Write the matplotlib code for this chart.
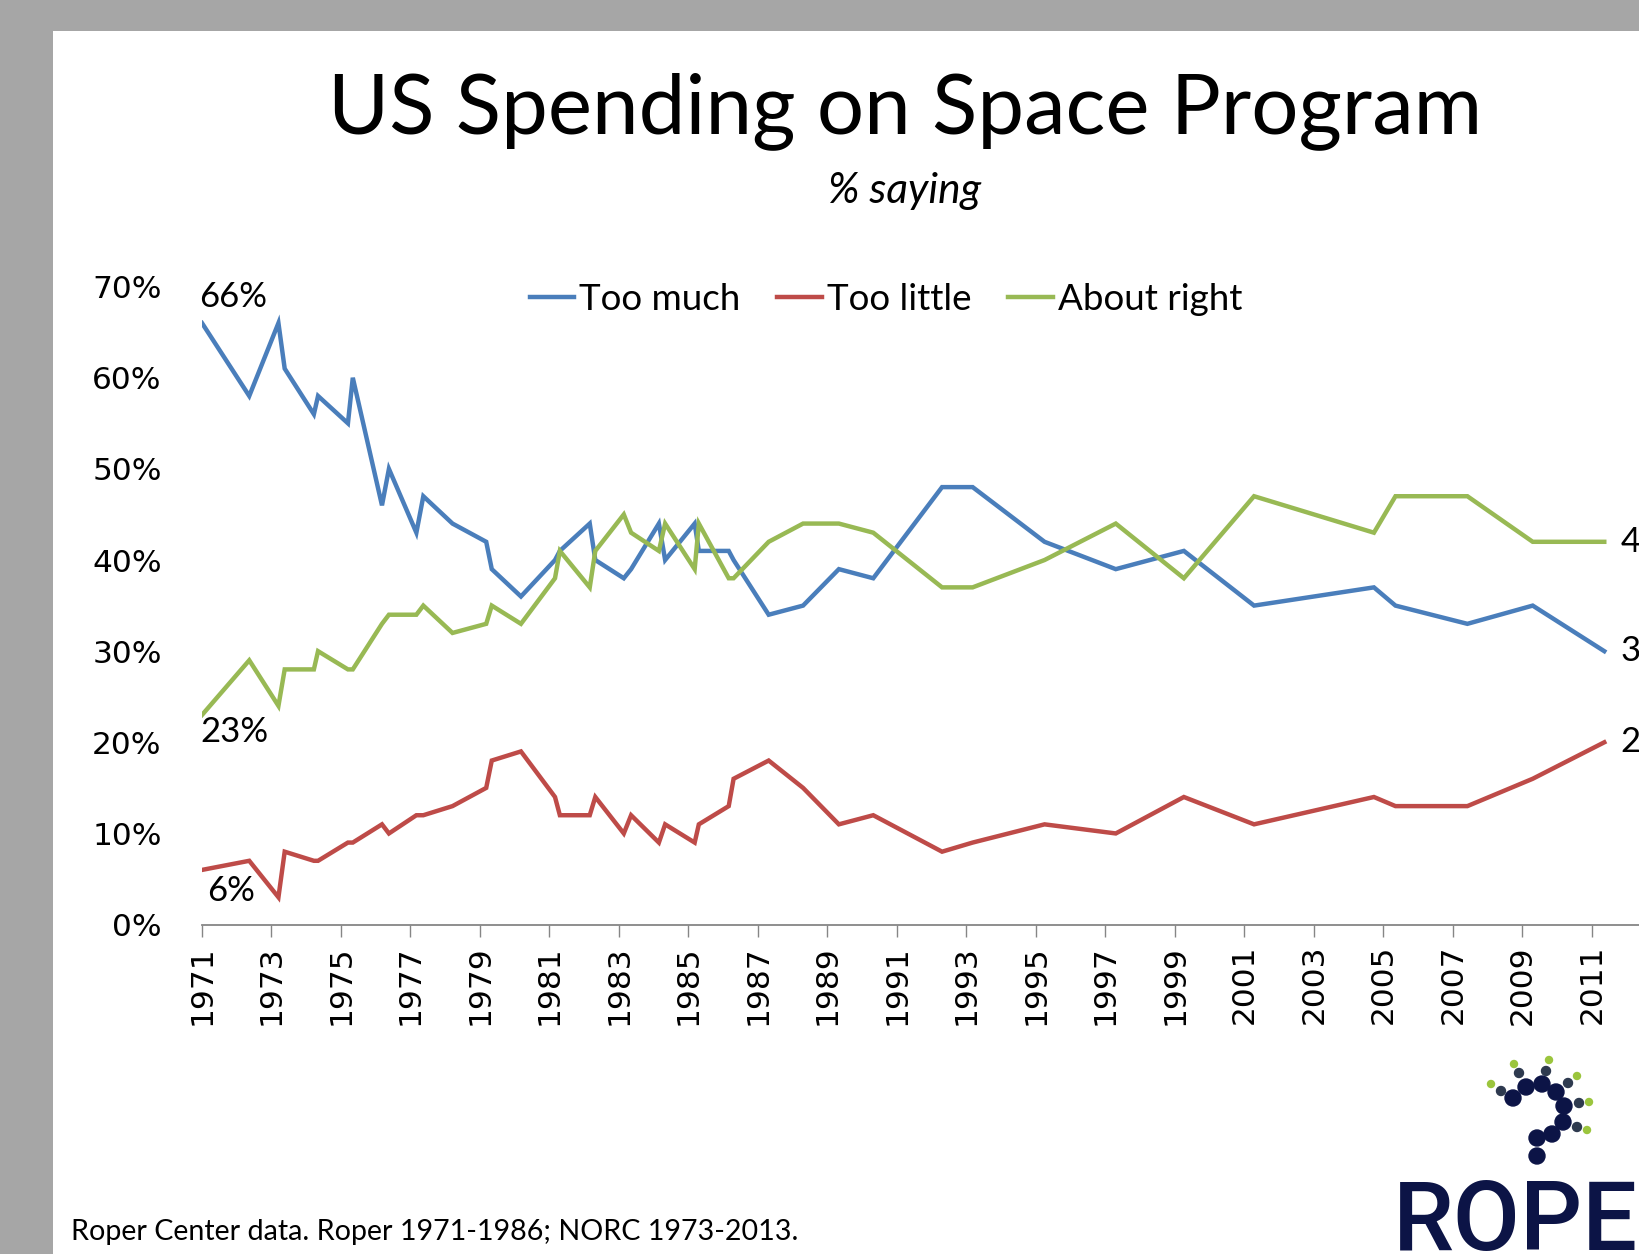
import matplotlib
matplotlib.use('Agg')
import matplotlib.pyplot as plt
from matplotlib.patches import Rectangle, Circle

# survey dates (decimal years) and shares saying each answer
years = [1971.0, 1972.36, 1973.2, 1973.38, 1974.22, 1974.34, 1975.2, 1975.34,
         1976.18, 1976.38, 1977.17, 1977.37, 1978.21, 1979.18, 1979.34, 1980.18,
         1981.16, 1981.3, 1982.16, 1982.32, 1983.14, 1983.35, 1984.15, 1984.33,
         1985.18, 1985.3, 1986.16, 1986.3, 1987.31, 1988.3, 1989.33, 1990.32,
         1992.3, 1993.18, 1995.25, 1997.3, 1999.26, 2001.28, 2004.73, 2005.35,
         2007.42, 2009.3, 2011.36]
too_much = [66, 58, 66, 61, 56, 58, 55, 60, 46, 50, 43, 47, 44, 42, 39, 36,
            40, 41, 44, 40, 38, 39, 44, 40, 44, 41, 41, 40, 34, 35, 39, 38,
            48, 48, 42, 39, 41, 35, 37, 35, 33, 35, 30]
too_little = [6, 7, 3, 8, 7, 7, 9, 9, 11, 10, 12, 12, 13, 15, 18, 19,
              14, 12, 12, 14, 10, 12, 9, 11, 9, 11, 13, 16, 18, 15, 11, 12,
              8, 9, 11, 10, 14, 11, 14, 13, 13, 16, 20]
about_right = [23, 29, 24, 28, 28, 30, 28, 28, 33, 34, 34, 35, 32, 33, 35, 33,
               38, 41, 37, 41, 45, 43, 41, 44, 39, 44, 38, 38, 42, 44, 44, 43,
               37, 37, 40, 44, 38, 47, 43, 47, 47, 42, 42]

series = [('Too much', too_much, '#4a7ebb'),
          ('Too little', too_little, '#be4b48'),
          ('About right', about_right, '#98b954')]
year_ticks = list(range(1971, 2013, 2))
pct_ticks = [0, 10, 20, 30, 40, 50, 60, 70]

W, H = 1640, 1254
txt_font = ['Lato', 'DejaVu Sans']

fig = plt.figure(figsize=(W / 100, H / 100), dpi=100, facecolor='#a6a6a6')
fig.add_artist(Rectangle((53 / W, 0), 1 - 53 / W, 1 - 31 / H, transform=fig.transFigure,
                         facecolor='white', edgecolor='none', zorder=0))

ax = fig.add_axes([202 / W, 1 - 924.6 / H, 1494 / W, 638 / H])
ax.set_facecolor('none')
for name, vals, col in series:
    ax.plot(years, [v / 100 for v in vals], color=col, lw=3.2, label=name,
            solid_joinstyle='miter')

ax.set_xlim(1971, 2014)
ax.set_ylim(0, 0.70)
ax.set_xticks(year_ticks)
ax.set_xticklabels([str(y) for y in year_ticks], rotation=90, fontsize=22.5,
                   family='DejaVu Sans')
ax.set_yticks([p / 100 for p in pct_ticks])
ax.set_yticklabels(['%d%%' % p for p in pct_ticks], fontsize=22.5, family='DejaVu Sans')
ax.tick_params(axis='x', length=8.6, width=1, color='#868686', pad=6)
ax.tick_params(axis='y', length=0, pad=29)
for s in ['top', 'right', 'left']:
    ax.spines[s].set_visible(False)
ax.spines['bottom'].set_color('#868686')
ax.spines['bottom'].set_linewidth(1.3)

# start / end value labels
lab = dict(fontsize=25, family=txt_font, va='center', textcoords='offset points')
ax.annotate('%d%%' % too_much[0], (years[0], too_much[0] / 100), xytext=(-2, 19), ha='left', **lab)
ax.annotate('%d%%' % about_right[0], (years[0], about_right[0] / 100), xytext=(-1.5, -12), ha='left', **lab)
ax.annotate('%d%%' % too_little[0], (years[0], too_little[0] / 100), xytext=(3.6, -15), ha='left', **lab)
for name, vals, col in series:
    ax.annotate('%d%%' % vals[-1], (years[-1], vals[-1] / 100), xytext=(11.5, 0), ha='left', **lab)

ax.legend(loc='center', bbox_to_anchor=(886 / W, 1 - 299 / H), bbox_transform=fig.transFigure,
          ncol=3, frameon=False, handlelength=1.2, handletextpad=0.15, columnspacing=1.0,
          prop={'family': txt_font, 'size': 26.5})

fig.text(905 / W, 1 - 111 / H, 'US Spending on Space Program', ha='center', va='center',
         fontsize=60, family=txt_font)
fig.text(905 / W, 1 - 191 / H, '% saying', ha='center', va='center', fontsize=30.5,
         style='italic', family=txt_font)
fig.text(71 / W, 1 - 1232 / H, 'Roper Center data. Roper 1971-1986; NORC 1973-2013.',
         ha='left', va='center', fontsize=20.6, family=txt_font)

# Roper logo (bottom right, cut off by the edge)
lx = fig.add_axes([0, 0, 1, 1], zorder=5)
lx.set_xlim(0, W)
lx.set_ylim(H, 0)
lx.axis('off')
lx.patch.set_alpha(0)
navy = '#0c1446'
for cx, cy in [(1513, 1098), (1526, 1087), (1542, 1084), (1556, 1092), (1564, 1106),
               (1563, 1122), (1552, 1134), (1537, 1138), (1537, 1156)]:
    lx.add_patch(Circle((cx, cy), 8, color=navy))
for cx, cy in [(1501, 1091), (1519, 1073), (1546, 1071), (1568, 1083), (1579, 1103), (1577, 1127)]:
    lx.add_patch(Circle((cx, cy), 4.5, color='#2e3a4f'))
for cx, cy in [(1491, 1084), (1514, 1064), (1549, 1060), (1577, 1076), (1589, 1102), (1587, 1130)]:
    lx.add_patch(Circle((cx, cy), 3.5, color='#9bc53d'))
lx.text(1393, 1250, 'ROPER', ha='left', va='baseline', fontsize=70, color=navy,
        weight='medium', family=['Roboto', 'DejaVu Sans'])

fig.savefig('out.png', dpi=100, facecolor=fig.get_facecolor())
plt.close()
